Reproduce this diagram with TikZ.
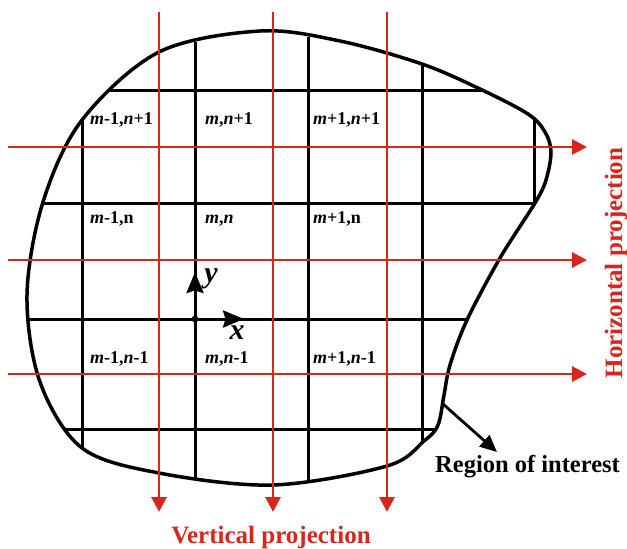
\documentclass[tikz,border=0pt]{standalone}
\usepackage{fontspec}
\setmainfont{Liberation Serif}
\usetikzlibrary{arrows.meta}
\definecolor{pred}{RGB}{218,37,29}
\begin{document}
\begin{tikzpicture}[x=1pt,y=-1pt,
  gridline/.style={line width=3pt, black},
  boundary/.style={line width=3.5pt, black},
  redline/.style={line width=2.9pt, pred, -{Triangle[length=15pt,width=15pt]}},
  axisline/.style={line width=3pt, black, -{Stealth[length=21pt,width=17pt,inset=2.5pt]}},
  cell/.style={anchor=base west, inner sep=0pt, font=\fontsize{18}{20}\selectfont\bfseries},
  big/.style={inner sep=0pt, font=\fontsize{25}{28}\selectfont\bfseries},
  axlab/.style={inner sep=0pt, font=\fontsize{30}{32}\selectfont\bfseries\itshape},
]
\useasboundingbox (0,0) rectangle (627,549);
% grid clipped to region
\begin{scope}
\clip plot[smooth cycle, tension=0.55] coordinates {(260,31) (340,41) (422,64) (480,89) (528,114) (545,132) (551,152) (546,180) (535,203) (500,258) (467,320) (450,365) (444,395) (438,425) (424,441) (387,466) (273,485) (159,473) (82,448) (40,382) (27,295) (43,202) (82,120) (159,52)};
\draw[gridline] (82,100) -- (82,470);
\draw[gridline] (195,42) -- (195,500);
\draw[gridline] (308,37) -- (308,500);
\draw[gridline] (422,60) -- (422,500);
\draw[gridline] (534,100) -- (534,203);
\draw[gridline] (0,90) -- (627,90);
\draw[gridline] (0,203) -- (535,203);
\draw[gridline] (0,319) -- (627,319);
\draw[gridline] (0,429) -- (627,429);
\end{scope}
% region boundary
\draw[boundary] plot[smooth cycle, tension=0.55] coordinates {(260,31) (340,41) (422,64) (480,89) (528,114) (545,132) (551,152) (546,180) (535,203) (500,258) (467,320) (450,365) (444,395) (438,425) (424,441) (387,466) (273,485) (159,473) (82,448) (40,382) (27,295) (43,202) (82,120) (159,52)};
% cell labels
\node[cell] (c11) at (90,124) {\textit{m}-1,\textit{n}+1};
\node[cell] (c21) at (205,124) {\textit{m},\textit{n}+1};
\node[cell] (c31) at (313,124) {\textit{m}+1,\textit{n}+1};
\node[cell] (c12) at (90,223) {\textit{m}-1,n};
\node[cell] (c22) at (205,223) {\textit{m},\textit{n}};
\node[cell] (c32) at (313,223) {\textit{m}+1,n};
\node[cell] (c13) at (90,363) {\textit{m}-1,\textit{n}-1};
\node[cell] (c23) at (205,363) {\textit{m},\textit{n}-1};
\node[cell] (c33) at (313,363) {\textit{m}+1,\textit{n}-1};
% red projection lines
\foreach \i/\x in {1/159,2/273,3/387} {
  \coordinate (vs\i) at (\x,12);
  \coordinate (ve\i) at (\x,512);
  \draw[redline] (vs\i) -- (ve\i);
}
\foreach \i/\y in {1/147,2/260,3/374} {
  \coordinate (hs\i) at (8,\y);
  \coordinate (he\i) at (587,\y);
  \draw[redline] (hs\i) -- (he\i);
}
% axes
\coordinate (O) at (195,319);
\coordinate (yt) at (195,272);
\coordinate (xt) at (244,319);
\draw[axisline] (O) -- (yt);
\draw[axisline] (O) -- (xt);
\fill (O) circle (3.4);
\node[axlab] (ylab) at (211,279) {y};
\node[axlab] (xlab) at (237,333) {x};
% region of interest
\coordinate (rs) at (443,404);
\coordinate (re) at (497,452);
\draw[line width=2.8pt, -{Triangle[length=17pt,width=15pt]}] (rs) -- (re);
\node[big, anchor=base west, font=\fontsize{24.5}{28}\selectfont\bfseries] (roi) at (435,472) {Region of interest};
% projection titles
\node[big, anchor=base, text=pred] (vp) at (271,543) {Vertical projection};
\node[big, anchor=base, text=pred, rotate=90] (hp) at (622,263) {Horizontal projection};
\end{tikzpicture}
\end{document}
